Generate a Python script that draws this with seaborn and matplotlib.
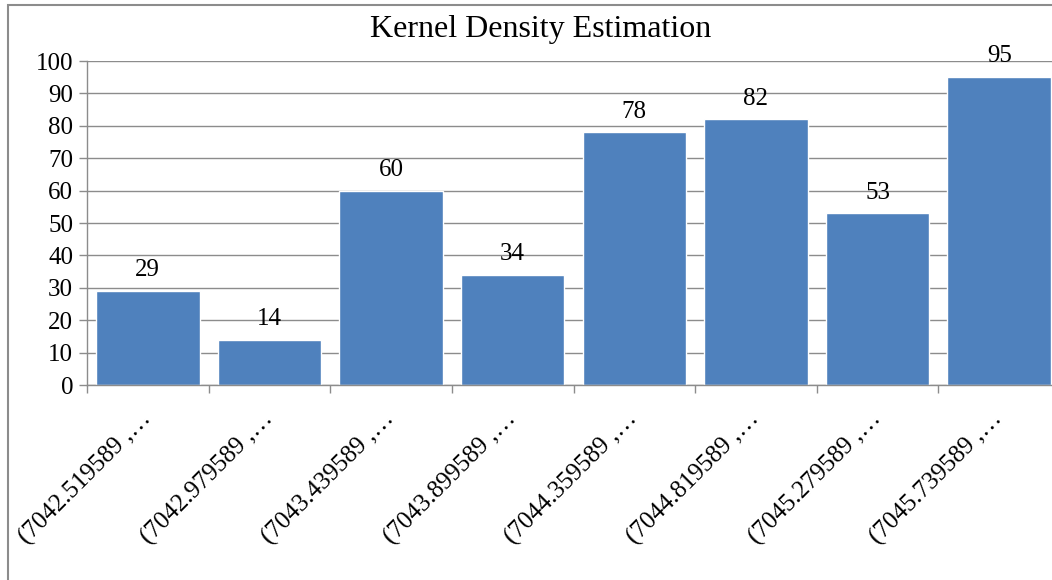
import matplotlib
matplotlib.use('Agg')
import matplotlib.pyplot as plt
import seaborn as sns
from matplotlib.patches import Rectangle
from matplotlib.ticker import FixedLocator, MultipleLocator

bins = [
    '(7042.519589 ,…', '(7042.979589 ,…', '(7043.439589 ,…', '(7043.899589 ,…',
    '(7044.359589 ,…', '(7044.819589 ,…', '(7045.279589 ,…', '(7045.739589 ,…',
]
counts = [29, 14, 60, 34, 78, 82, 53, 95]

sns.set_theme(style='white')
plt.rcParams['font.family'] = ['Liberation Serif', 'DejaVu Serif']

fig = plt.figure(figsize=(10.52, 5.8), dpi=100)
ax = fig.add_axes([87 / 1052, 1 - 385 / 580, 973 / 1052, 324 / 580])

sns.barplot(x=bins, y=counts, color='#4F81BD', saturation=1, width=0.85, ax=ax)
ax.bar_label(ax.containers[0], padding=7, fontsize=18, color='black')

grid_c = '#8C8C8C'
ax.set_ylim(0, 100)
ax.set_xlim(-0.5, len(bins) - 0.5)
ax.yaxis.set_major_locator(MultipleLocator(10))
ax.yaxis.grid(True, color=grid_c, linewidth=1)
ax.set_axisbelow(True)
for side in ['top', 'right']:
    ax.spines[side].set_visible(False)
for side in ['left', 'bottom']:
    ax.spines[side].set_color(grid_c)
    ax.spines[side].set_linewidth(1)

ax.tick_params(axis='y', which='major', length=6, width=1, color=grid_c, left=True,
               labelsize=18, labelcolor='black', pad=4)
ax.xaxis.set_minor_locator(FixedLocator([i - 0.5 for i in range(len(bins) + 1)]))
ax.tick_params(axis='x', which='minor', length=6, width=1, color=grid_c, bottom=True)
ax.tick_params(axis='x', which='major', length=0, labelsize=18, labelcolor='black', pad=22)
plt.setp(ax.get_xticklabels(), rotation=45, ha='right', va='center', rotation_mode='anchor')
ax.set_xlabel('')
ax.set_ylabel('')

fig.text(541 / 1052, 1 - 30 / 580, 'Kernel Density Estimation', ha='center', va='center',
         fontsize=23, color='black')

# outer chart-area frame (left and top edges visible)
fig.patches.append(Rectangle((8 / 1052, -0.2), 1.2, 1.2 - 5 / 580, transform=fig.transFigure,
                             fill=False, edgecolor='#8C8C8C', linewidth=1.5, clip_on=False))

fig.savefig('out.png', dpi=100)
